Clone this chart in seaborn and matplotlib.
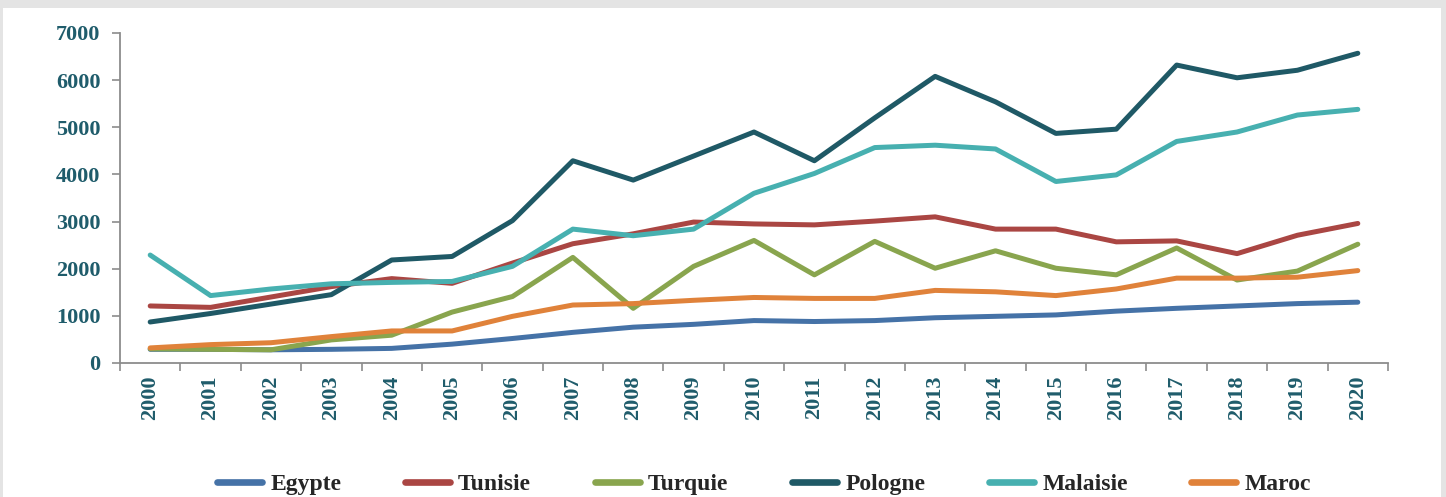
import pandas as pd
import matplotlib.pyplot as plt
import seaborn as sns
from matplotlib.patches import Rectangle

# data
years = [str(y) for y in range(2000, 2021)]
countries = ['Egypte', 'Tunisie', 'Turquie', 'Pologne', 'Malaisie', 'Maroc']

egypte = [290, 290, 280, 290, 310, 400, 520, 650, 760, 820, 900,
          880, 900, 960, 990, 1020, 1100, 1160, 1210, 1260, 1290]
tunisie = [1210, 1180, 1400, 1620, 1790, 1690, 2120, 2530, 2740, 2990, 2950,
           2930, 3010, 3100, 2840, 2840, 2570, 2590, 2320, 2710, 2960]
turquie = [300, 290, 280, 490, 590, 1080, 1410, 2240, 1160, 2050, 2600,
           1870, 2580, 2010, 2380, 2010, 1870, 2440, 1760, 1950, 2520]
pologne = [870, 1050, 1250, 1450, 2185, 2260, 3020, 4290, 3880, 4390, 4900,
           4290, 5200, 6080, 5540, 4870, 4960, 6320, 6050, 6210, 6570]
malaisie = [2290, 1430, 1570, 1680, 1710, 1730, 2050, 2840, 2700, 2840, 3600,
            4020, 4570, 4620, 4540, 3850, 3990, 4700, 4900, 5260, 5380]
maroc = [320, 390, 430, 560, 680, 680, 990, 1230, 1260, 1330, 1390,
         1370, 1370, 1540, 1510, 1430, 1570, 1800, 1800, 1820, 1960]

colors = ['#4572a7', '#aa4643', '#89a54e', '#1f5966', '#47b0b0', '#e0823a']

series = [egypte, tunisie, turquie, pologne, malaisie, maroc]
rows = []
for name, vals in zip(countries, series):
    for i, v in enumerate(vals):
        rows.append({'pos': i, 'year': years[i], 'pays': name, 'valeur': v})
df = pd.DataFrame(rows)

sns.set_style('white')
plt.rcParams['font.family'] = ['Liberation Serif', 'DejaVu Serif']
plt.rcParams['font.weight'] = 'bold'

label_col = '#1f5c6b'

fig = plt.figure(figsize=(14.46, 4.97), dpi=100)
fig.patch.set_facecolor('#e4e4e4')
# white panel behind the chart
fig.add_artist(Rectangle((3 / 1446, 0), 1438 / 1446, 1 - 8 / 497,
                         transform=fig.transFigure, facecolor='white',
                         edgecolor='none', zorder=-10))

ax = fig.add_axes([120 / 1446, 1 - 363 / 497, 1268 / 1446, 330 / 497])
ax.set_facecolor('none')

sns.lineplot(data=df, x='pos', y='valeur', hue='pays', hue_order=countries,
             palette=colors, linewidth=3.6, ax=ax, legend=False,
             solid_capstyle='round')

ax.set_xlim(-0.5, len(years) - 0.5)
ax.set_ylim(0, 7000)
ax.set_yticks(range(0, 7001, 1000))
ax.set_xticks(range(len(years)))
ax.set_xticklabels(years, rotation=90)
ax.set_xticks([i - 0.5 for i in range(len(years) + 1)], minor=True)
ax.tick_params(axis='x', which='major', bottom=True, length=0, pad=9)
ax.tick_params(axis='x', which='minor', bottom=True, length=6, width=1.2,
               color='#8c8c8c', direction='out')
ax.tick_params(axis='y', left=True, length=6, width=1.2, color='#8c8c8c',
               direction='out', pad=8)
for lab in ax.get_xticklabels() + ax.get_yticklabels():
    lab.set_fontsize(16)
    lab.set_fontweight('bold')
    lab.set_color(label_col)
ax.set_xlabel('')
ax.set_ylabel('')

sns.despine(ax=ax)
for s in ['left', 'bottom']:
    ax.spines[s].set_color('#8c8c8c')
    ax.spines[s].set_linewidth(1.3)

handles = [plt.Line2D([], [], color=c, linewidth=4.8, solid_capstyle='round')
           for c in colors]
fig.legend(handles, countries, loc='center', ncol=6, frameon=False,
           bbox_to_anchor=(764 / 1446, 1 - 484 / 497),
           prop={'family': 'Liberation Serif', 'weight': 'bold', 'size': 17},
           handlelength=1.9, handletextpad=0.35, columnspacing=2.7)

fig.savefig('out.png', dpi=100, facecolor=fig.get_facecolor())
